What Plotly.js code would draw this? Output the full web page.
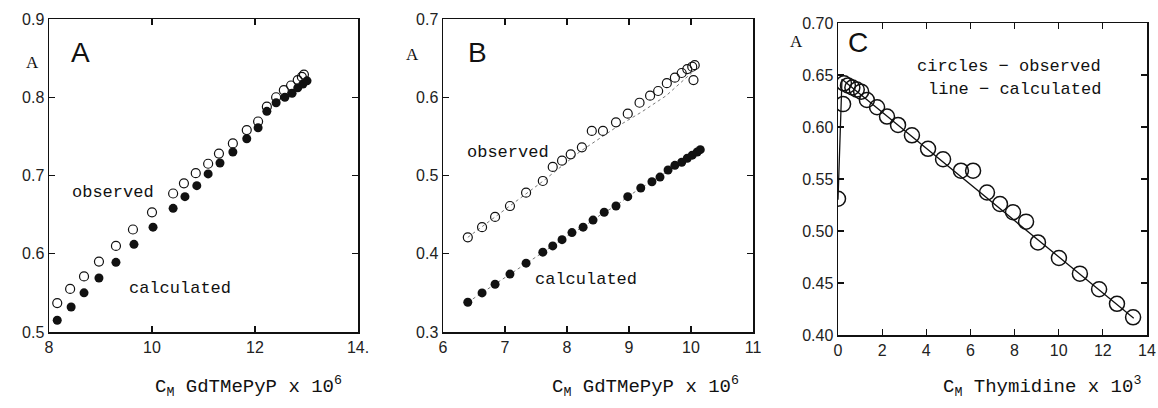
<!DOCTYPE html>
<html><head><meta charset="utf-8">
<script src="https://cdn.plot.ly/plotly-3.0.1.min.js"></script>
<style>html,body{margin:0;padding:0;background:#fff}#chart{width:1158px;height:408px}</style>
</head><body><div id="chart"></div>
<script>
// Panel A
const aObsX = [8.16,8.41,8.68,8.97,9.30,9.63,10.00,10.41,10.62,10.85,11.09,11.30,11.57,11.84,12.06,12.23,12.41,12.56,12.70,12.83,12.91,12.95];
const aObsY = [0.537,0.555,0.571,0.590,0.610,0.631,0.653,0.677,0.690,0.703,0.715,0.728,0.741,0.758,0.769,0.788,0.800,0.809,0.815,0.822,0.826,0.829];
const aCalX = [8.16,8.43,8.68,8.97,9.30,9.65,10.02,10.41,10.64,10.87,11.09,11.32,11.57,11.84,12.06,12.23,12.41,12.58,12.72,12.83,12.93,13.01];
const aCalY = [0.515,0.532,0.550,0.569,0.589,0.612,0.634,0.658,0.673,0.687,0.702,0.716,0.730,0.747,0.761,0.782,0.793,0.800,0.805,0.812,0.817,0.821];
// Panel B
const bObsX = [6.40,6.63,6.84,7.08,7.34,7.61,7.77,7.92,8.06,8.24,8.40,8.58,8.79,8.98,9.17,9.34,9.47,9.61,9.74,9.85,9.94,10.02,10.06,10.04];
const bObsY = [0.421,0.434,0.447,0.461,0.478,0.493,0.511,0.519,0.527,0.536,0.557,0.557,0.568,0.579,0.593,0.602,0.608,0.618,0.625,0.631,0.636,0.639,0.641,0.622];
const bFitX = [6.40,7.00,7.60,8.20,8.80,9.20,9.60,10.05];
const bFitY = [0.421,0.457,0.492,0.530,0.562,0.581,0.602,0.634];
const bCalX = [6.40,6.63,6.84,7.08,7.34,7.61,7.77,7.92,8.08,8.26,8.42,8.60,8.79,8.98,9.19,9.37,9.50,9.63,9.74,9.85,9.94,10.02,10.10,10.15];
const bCalY = [0.338,0.350,0.361,0.374,0.388,0.402,0.410,0.418,0.427,0.434,0.443,0.453,0.461,0.473,0.484,0.492,0.498,0.507,0.513,0.517,0.522,0.526,0.530,0.533];
// Panel C
const cObsX = [0.00,0.23,0.27,0.45,0.65,0.85,1.05,1.31,1.77,2.22,2.72,3.35,4.08,4.76,5.57,6.12,6.75,7.34,7.93,8.52,9.06,10.01,10.96,11.83,12.64,13.37];
const cObsY = [0.531,0.622,0.642,0.640,0.638,0.636,0.634,0.626,0.619,0.610,0.602,0.592,0.579,0.569,0.558,0.558,0.537,0.526,0.518,0.509,0.489,0.474,0.459,0.444,0.430,0.417];
const cLineX = [0.00,0.18,13.40];
const cLineY = [0.530,0.646,0.416];

const mono = "Liberation Mono, Courier New, monospace";
const sans = "Liberation Sans, Arial, sans-serif";
const serif = "Liberation Serif, Times New Roman, serif";

const traces = [
  {x:aObsX,y:aObsY,xaxis:'x',yaxis:'y',mode:'markers',marker:{symbol:'circle-open',size:9,color:'#111',line:{width:1.2}}},
  {x:aCalX,y:aCalY,xaxis:'x',yaxis:'y',mode:'markers',marker:{symbol:'circle',size:9,color:'#111'}},
  {x:bFitX,y:bFitY,xaxis:'x2',yaxis:'y2',mode:'lines',line:{color:'#555',width:0.8,dash:'dot'}},
  {x:bObsX,y:bObsY,xaxis:'x2',yaxis:'y2',mode:'markers',marker:{symbol:'circle-open',size:9,color:'#111',line:{width:1.2}}},
  {x:bCalX,y:bCalY,xaxis:'x2',yaxis:'y2',mode:'lines+markers',line:{color:'#555',width:0.8,dash:'dot'},marker:{symbol:'circle',size:9,color:'#111'}},
  {x:cLineX,y:cLineY,xaxis:'x3',yaxis:'y3',mode:'lines',line:{color:'#111',width:1.3}},
  {x:cObsX,y:cObsY,xaxis:'x3',yaxis:'y3',mode:'markers',marker:{symbol:'circle-open',size:15,color:'#111',line:{width:1.5}}}
];

function ax(extra){
  return Object.assign({showgrid:false,zeroline:false,showline:true,linecolor:'#111',linewidth:1.5,mirror:'ticks',
    ticks:'inside',ticklen:6,tickwidth:1.2,tickcolor:'#111',tickfont:{family:sans,size:16,color:'#222'}},extra);
}
function ann(text,px,py,font){
  return {text:text,x:px/1158,y:1-py/408,xref:'paper',yref:'paper',xanchor:'center',yanchor:'middle',showarrow:false,font:font};
}
const yA=[1-332/408,1-19/408], yC=[1-335/408,1-23/408];
const big = {family:sans,size:28,color:'#111'};
const small = {family:serif,size:17,color:'#111'};
const titleF = {family:mono,size:19,color:'#111'};
const textF = {family:mono,size:17,color:'#111'};
const layout = {
  width:1158,height:408,margin:{l:0,r:0,t:0,b:0},showlegend:false,
  paper_bgcolor:'#fff',plot_bgcolor:'#fff',
  xaxis: ax({domain:[49/1158,358/1158],range:[8,14],tickvals:[8,10,12,14],ticktext:['8','10','12','14.'],anchor:'y'}),
  yaxis: ax({domain:yA,range:[0.5,0.9],tickvals:[0.5,0.6,0.7,0.8,0.9],tickformat:'.1f',anchor:'x'}),
  xaxis2: ax({domain:[443/1158,753/1158],range:[6,11],dtick:1,anchor:'y2'}),
  yaxis2: ax({domain:yA,range:[0.3,0.7],dtick:0.1,tickformat:'.1f',anchor:'x2'}),
  xaxis3: ax({domain:[838/1158,1147/1158],range:[0,14],dtick:2,anchor:'y3'}),
  yaxis3: ax({domain:yC,range:[0.4,0.7],dtick:0.05,tickformat:'.2f',anchor:'x3'}),
  annotations:[
    ann('A',80,52,big), ann('B',477,52,big), ann('C',858,43,big),
    ann('A',32,62,small), ann('A',412,55,small), ann('A',796,42,small),
    {text:'observed',x:9.24,y:0.678,xref:'x',yref:'y',showarrow:false,font:textF},
    {text:'calculated',x:10.54,y:0.555,xref:'x',yref:'y',showarrow:false,font:textF},
    {text:'observed',x:7.05,y:0.530,xref:'x2',yref:'y2',showarrow:false,font:textF},
    {text:'calculated',x:8.31,y:0.367,xref:'x2',yref:'y2',showarrow:false,font:textF},
    {text:'circles − observed',x:12.0,y:0.658,xref:'x3',yref:'y3',xanchor:'right',showarrow:false,font:textF},
    {text:'line − calculated',x:12.0,y:0.636,xref:'x3',yref:'y3',xanchor:'right',showarrow:false,font:textF},
    ann('C<sub>M</sub> GdTMePyP x 10<sup>6</sup>',249,386,titleF),
    ann('C<sub>M</sub> GdTMePyP x 10<sup>6</sup>',645,386,titleF),
    ann('C<sub>M</sub> Thymidine x 10<sup>3</sup>',1042,386,titleF)
  ]
};
Plotly.newPlot('chart',traces,layout,{staticPlot:true,displayModeBar:false});
</script></body></html>
